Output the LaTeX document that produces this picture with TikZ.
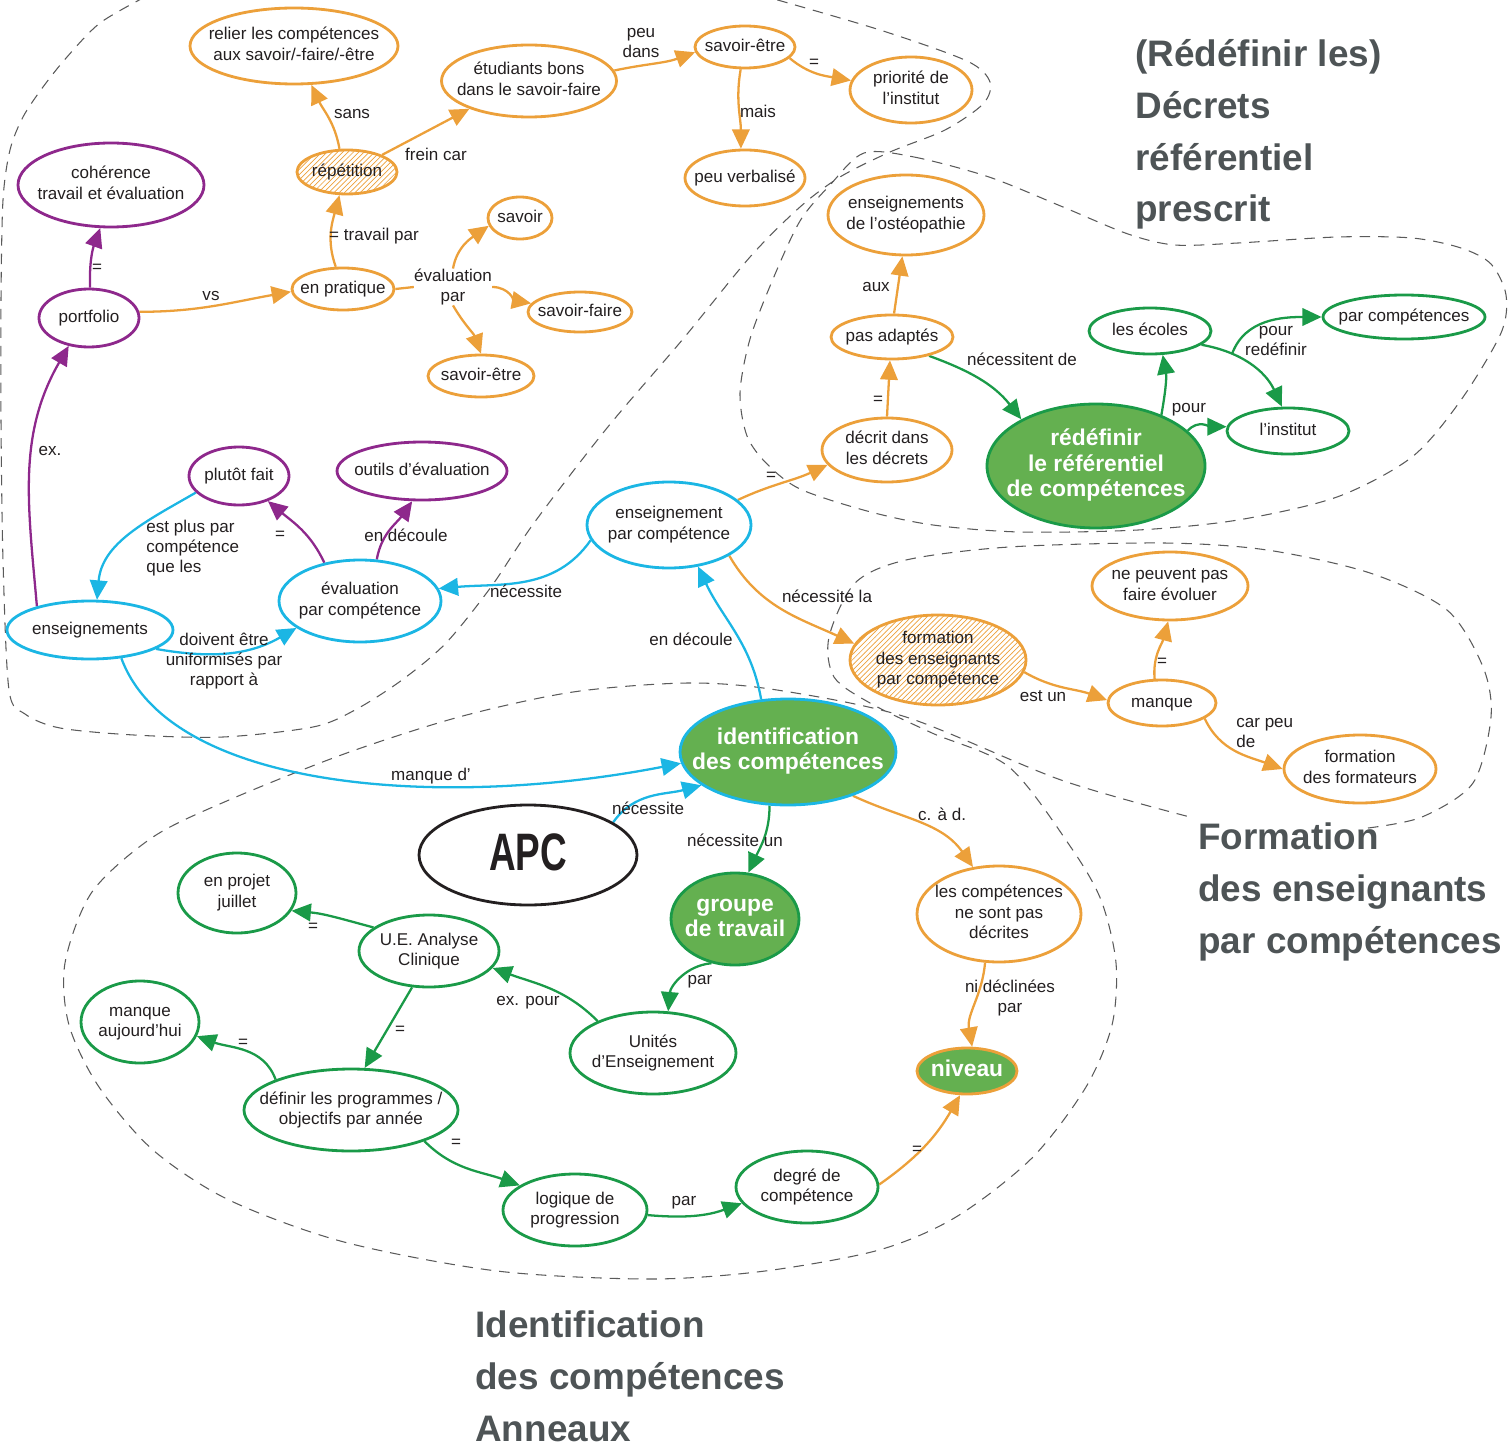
\documentclass[tikz,border=0pt]{standalone}
\usepackage{fontspec}
\setmainfont{Liberation Sans}
\usetikzlibrary{shapes.geometric, arrows.meta, patterns, backgrounds}

\definecolor{orng}{RGB}{236,160,58}
\definecolor{purp}{RGB}{142,40,140}
\definecolor{cyn}{RGB}{27,182,228}
\definecolor{grn}{RGB}{26,154,72}
\definecolor{grnfill}{RGB}{100,176,80}
\definecolor{ink}{RGB}{35,31,32}
\definecolor{titlegray}{RGB}{78,84,86}
\definecolor{blobgray}{RGB}{90,90,90}

\newcommand\nodefont{\fontsize{9.7}{11.4}\selectfont}
\newcommand\boldfont{\bfseries\fontsize{13}{14.5}\selectfont}
\newcommand\titlefont{\bfseries\fontsize{21}{29.5}\selectfont}
% centred lines in a box of zero width, so the ellipse keeps its given size
\newcommand\ctext[1]{\hbox to 0pt{\hss\begin{tabular}{@{}c@{}}#1\end{tabular}\hss}}

\tikzset{
  concept/.style ={ellipse, line width=1.6pt, fill=white, inner sep=0pt, text=ink, font=\nodefont},
  wh/.style 2 args={minimum width=#1*0.02cm, minimum height=#2*0.02cm},
  onode/.style   ={concept, draw=orng},
  pnode/.style   ={concept, draw=purp},
  cnode/.style   ={concept, draw=cyn},
  gnode/.style   ={concept, draw=grn},
  bignode/.style ={concept, fill=grnfill, text=white, font=\boldfont},
  hatched/.style ={pattern=north east lines, pattern color=orng},
  lbl/.style     ={inner sep=0pt, align=center, text=ink, font=\nodefont},
  link/.style    ={line width=1.3pt, -{Triangle[length=11pt,width=10pt]}},
  oarr/.style    ={link, draw=orng},
  parr/.style    ={link, draw=purp},
  carr/.style    ={link, draw=cyn},
  garr/.style    ={link, draw=grn},
  oline/.style   ={line width=1.3pt, draw=orng},
  blob/.style    ={draw=blobgray, line width=0.6pt, dash pattern=on 6pt off 4.5pt},
  region/.style  ={anchor=base west, align=left, inner sep=0pt, text=titlegray, font=\titlefont},
}

\begin{document}
\begin{tikzpicture}[x=0.02cm, y=-0.02cm]
  \useasboundingbox (0,0) rectangle (1510,1449);

  % ── top left: practice ─────────────────────────────────────────────
  \node[onode, wh={208}{76}]  (relier) at (294,46)  {\ctext{relier les compétences\\aux savoir/-faire/-être}};
  \node[onode, wh={175}{72}]  (etud)   at (529,81)  {\ctext{étudiants bons\\dans le savoir-faire}};
  \node[onode, wh={100}{42}]  (setre)  at (745,47)  {\ctext{savoir-être}};
  \node[onode, wh={122}{66}]  (prio)   at (911,90)  {\ctext{priorité de\\l’institut}};
  \node[onode, wh={120}{56}]  (verb)   at (745,178) {\ctext{peu verbalisé}};
  \node[onode, hatched, wh={100}{44}] (rep) at (347,172) {\ctext{répétition}};
  \node[pnode, wh={186}{84}]  (coher)  at (111,185) {\ctext{cohérence\\travail et évaluation}};
  \node[pnode, wh={100}{58}]  (portf)  at (89,318)  {\ctext{portfolio}};
  \node[onode, wh={102}{42}]  (prat)   at (343,289) {\ctext{en pratique}};
  \node[onode, wh={64}{42}]   (savoir) at (520,218) {\ctext{savoir}};
  \node[onode, wh={104}{40}]  (sfaire) at (580,312) {\ctext{savoir-faire}};
  \node[onode, wh={106}{42}]  (setre2) at (481,376) {\ctext{savoir-être}};

  % ── evaluation ─────────────────────────────────────────────────────
  \node[pnode, wh={100}{58}]  (plutot) at (239,476) {\ctext{plutôt fait}};
  \node[pnode, wh={170}{58}]  (outils) at (422,471) {\ctext{outils d’évaluation}};
  \node[cnode, wh={166}{58}]  (ens)    at (90,630)  {\ctext{enseignements}};
  \node[cnode, wh={162}{82}]  (evalc)  at (360,601) {\ctext{évaluation\\par compétence}};
  \node[cnode, wh={164}{86}]  (ensc)   at (669,525) {\ctext{enseignement\\par compétence}};

  % ── decrees ────────────────────────────────────────────────────────
  \node[onode, wh={156}{80}]  (osteo)  at (906,215) {\ctext{enseignements\\de l’ostéopathie}};
  \node[onode, wh={122}{44}]  (pasad)  at (892,337) {\ctext{pas adaptés}};
  \node[onode, wh={130}{64}]  (decrit) at (887,450) {\ctext{décrit dans\\les décrets}};
  \node[bignode, draw=grn, wh={218}{124}] (redef) at (1096,466) {\ctext{rédéfinir\\le référentiel\\de compétences}};
  \node[gnode, wh={122}{46}]  (ecoles) at (1150,331) {\ctext{les écoles}};
  \node[gnode, wh={162}{44}]  (parcomp) at (1404,317) {\ctext{par compétences}};
  \node[gnode, wh={122}{46}]  (instit) at (1288,431) {\ctext{l’institut}};

  % ── teacher training ───────────────────────────────────────────────
  \node[onode, hatched, wh={176}{90}] (formens) at (938,660) {\ctext{formation\\des enseignants\\par compétence}};
  \node[onode, wh={156}{68}]  (nepeuv) at (1170,586) {\ctext{ne peuvent pas\\faire évoluer}};
  \node[onode, wh={108}{46}]  (manque) at (1162,703) {\ctext{manque}};
  \node[onode, wh={152}{68}]  (formf)  at (1360,769) {\ctext{formation\\des formateurs}};

  % ── identification ─────────────────────────────────────────────────
  \node[bignode, draw=cyn, wh={216}{106}] (ident) at (788,752) {\ctext{identification\\des compétences}};
  \node[concept, draw=ink, wh={218}{100}] (apc) at (528,855)
        {\ctext{\bfseries\fontsize{30}{30}\selectfont\scalebox{0.7}[1]{APC}}};
  \node[bignode, draw=grn, wh={128}{92}] (groupe) at (735,919) {\ctext{groupe\\de travail}};
  \node[onode, wh={164}{96}]  (compnd) at (999,914) {\ctext{les compétences\\ne sont pas\\décrites}};
  \node[bignode, draw=orng, wh={100}{46}] (niveau) at (967,1071) {\ctext{niveau}};
  \node[gnode, wh={118}{80}]  (projet) at (237,893) {\ctext{en projet\\juillet}};
  \node[gnode, wh={140}{72}]  (ue)     at (429,951) {\ctext{U.E. Analyse\\Clinique}};
  \node[gnode, wh={118}{82}]  (mqaujd) at (140,1022) {\ctext{manque\\aujourd’hui}};
  \node[gnode, wh={166}{82}]  (unites) at (653,1053) {\ctext{Unités\\d’Enseignement}};
  \node[gnode, wh={214}{82}]  (definir) at (351,1110) {\ctext{définir les programmes /\\objectifs par année}};
  \node[gnode, wh={144}{72}]  (logique) at (575,1210) {\ctext{logique de\\progression}};
  \node[gnode, wh={142}{72}]  (degre)  at (807,1187) {\ctext{degré de\\compétence}};

  % ── link labels ────────────────────────────────────────────────────
  \node[lbl] (lsans)   at (352,114)  {sans};
  \node[lbl] (lfrein)  at (436,154)  {frein car};
  \node[lbl] (ltrav)   at (374,236)  {= travail par};
  \node[lbl] (lpeu)    at (641,43)   {peu\\dans};
  \node[lbl] (leqa)    at (814,63)   {=};
  \node[lbl] (lmais)   at (758,111)  {mais};
  \node[lbl] (evp)     at (453,287)  {évaluation\\par};
  \node[lbl] (leqb)    at (97,268)   {=};
  \node[lbl] (lvs)     at (211,296)  {vs};
  \node[lbl] (lex)     at (50,451)   {ex.};
  \node[lbl] (leqc)    at (280,535)  {=};
  \node[lbl] (ldeca)   at (406,535)  {en découle};
  \node[lbl, align=left, anchor=west] (lplus) at (146,548) {est plus par\\compétence\\que les};
  \node[lbl] (ldoiv)   at (224,661)  {doivent être\\uniformisés par\\rapport à};
  \node[lbl] (lneca)   at (526,591)  {nécessite};
  \node[lbl] (lmanq)   at (431,776)  {manque d’};
  \node[lbl] (ldecb)   at (691,639)  {en découle};
  \node[lbl] (lnecb)   at (648,808)  {nécessite};
  \node[lbl] (leqd)    at (771,476)  {=};
  \node[lbl] (leqe)    at (878,400)  {=};
  \node[lbl] (laux)    at (876,287)  {aux};
  \node[lbl] (lnecla)  at (827,596)  {nécessite la};
  \node[lbl] (lestun)  at (1043,696) {est un};
  \node[lbl] (leqf)    at (1162,662) {=};
  \node[lbl, align=left, anchor=west] (lcarpeu) at (1236,733) {car peu\\de};
  \node[lbl] (lcad)    at (942,814)  {c. à d.};
  \node[lbl] (lnidec)  at (1010,998) {ni déclinées\\par};
  \node[lbl] (leqg)    at (917,1150) {=};
  \node[lbl] (lnecde)  at (1022,359) {nécessitent de};
  \node[lbl] (lpour)   at (1189,410) {pour};
  \node[lbl] (lpourr)  at (1276,341) {pour\\redéfinir};
  \node[lbl] (lnecun)  at (735,840)  {nécessite un};
  \node[lbl] (lpara)   at (700,982)  {par};
  \node[lbl] (lexpour) at (528,1003) {ex. pour};
  \node[lbl] (leqh)    at (313,927)  {=};
  \node[lbl] (leqi)    at (400,1030) {=};
  \node[lbl] (leqj)    at (243,1043) {=};
  \node[lbl] (leqk)    at (456,1143) {=};
  \node[lbl] (lparb)   at (684,1203) {par};

  % ── region titles (placed at the baseline of their last line) ──────
  \node[region] (tdecrets)   at (1135,222)  {(Rédéfinir les)\\Décrets\\référentiel\\prescrit};
  \node[region] (tformation) at (1198,953)  {Formation\\des enseignants\\par compétences};
  \node[region] (tident)     at (475,1441)  {Identification\\des compétences\\Anneaux};

  \begin{scope}[on background layer]
    % dashed regions
    \draw[blob] plot[smooth] coordinates {(145,-3) (100,23) (67,57) (43,87) (23,117) (10,150)
      (3,200) (1,300) (1,420) (3,560) (9,690) (25,714) (60,728) (134,735) (223,737) (313,727)
      (355,710) (402,680) (446,643) (491,587) (534,523) (607,428) (683,339) (750,257) (800,207)
      (840,177) (890,152) (945,130) (983,104) (990,82) (967,61) (880,30) (767,-3)};
    \draw[blob] plot[smooth cycle] coordinates {(864,153) (914,157) (989,177) (1063,207)
      (1128,234) (1175,245) (1238,243) (1337,237) (1412,238) (1461,248) (1491,264) (1506,295)
      (1501,333) (1461,400) (1412,457) (1337,497) (1238,520) (1138,530) (1020,532) (933,525)
      (867,511) (800,489) (767,464) (747,436) (740,393) (750,339) (773,279) (800,221) (830,185)};
    \draw[blob] plot[smooth] coordinates {(1368,828) (1422,817) (1473,783) (1491,717)
      (1483,667) (1447,610) (1370,573) (1267,550) (1164,543) (1009,547) (906,560) (855,583)
      (829,637) (834,677) (870,703) (932,733) (1009,767) (1070,846) (1101,900) (1116,963)
      (1112,1025) (1086,1087) (1032,1158) (956,1217) (879,1250) (765,1271) (650,1279)
      (497,1271) (344,1242) (229,1200) (153,1150) (99,1087) (69,1025) (65,963) (92,892)
      (153,837) (229,800) (344,754) (459,717) (573,692) (688,683) (777,690) (906,717)
      (1061,780) (1190,817)};

    % orange links, top left
    \draw[oarr] (rep.108) to[out=100,in=-65] (relier.294);
    \draw[oarr] (rep.26) -- (etud.205);
    \draw[oarr] (prat.108) to[out=110,in=-105] (rep.252);
    \draw[oarr] (etud.7) to[out=12,in=200] (setre.186);
    \draw[oarr] (setre.346) to[out=-40,in=170] (prio.171);
    \draw[oarr] (setre.259) to[out=-100,in=90] (verb.98);
    \draw[oarr] (portf.7) to[out=0,in=190] (prat.183);
    \draw[oline] (prat.east) -- (evp.west);
    \draw[oarr] (evp.north) to[out=80,in=215] (savoir.194);
    \draw[oarr] (evp.east) to[out=0,in=170] (sfaire.170);
    \draw[oarr] (evp.south) to[out=-60,in=110] (setre2.90);

    % purple links
    \draw[parr] (portf.88) to[out=92,in=-110] (coher.256);
    \draw[parr] (ens.156) to[out=95,in=-120] (portf.234);
    \draw[parr] (evalc.133) to[out=115,in=-40] (plutot.319);
    \draw[parr] (evalc.68) to[out=80,in=-125] (outils.252);

    % cyan links
    \draw[carr] (plutot.201) to[out=210,in=85] (ens.77);
    \draw[carr] (ens.344) to[out=-10,in=210] (evalc.203);
    \draw[carr] (ensc.191) to[out=235,in=5] (evalc.9);
    \draw[carr] (ens.318) .. controls (170,790) and (440,810) .. (ident.186);
    \draw[carr] (ident.117) to[out=100,in=-65] (ensc.305);
    \draw[carr] (apc.21) to[out=55,in=195] (ident.201);

    % orange links, right
    \draw[oarr] (ensc.20) to[out=25,in=205] (decrit.194);
    \draw[oarr] (decrit.north) -- (pasad.265);
    \draw[oarr] (pasad.85) -- (osteo.265);
    \draw[oarr] (ensc.333) to[out=-60,in=155] (formens.169);
    \draw[oarr] (formens.-8) to[out=-30,in=160] (manque.177);
    \draw[oarr] (manque.107) to[out=95,in=-105] (nepeuv.267);
    \draw[oarr] (manque.340) to[out=-65,in=160] (formf.180);
    \draw[oarr] (ident.326) to[out=-25,in=125] (compnd.119);
    \draw[oarr] (compnd.254) to[out=-95,in=100] (niveau.78);
    \draw[oarr] (degre.2) to[out=35,in=-120] (niveau.254);

    % green links
    \draw[garr] (pasad.333) to[out=-20,in=128] (redef.148);
    \draw[garr] (redef.38) to[out=80,in=-80] (ecoles.298);
    \draw[garr] (redef.21) to[out=50,in=180] (instit.176);
    \draw[garr] (ecoles.-15) to[out=-10,in=115] (instit.104);
    \coordinate (pbr) at (1232,354);
    \draw[garr] (pbr) to[out=70,in=180] (parcomp.180);
    \draw[garr] (ident.251) to[out=-90,in=65] (groupe.74);
    \draw[garr] (groupe.242) to[out=185,in=85] (unites.70);
    \draw[garr] (unites.150) to[out=135,in=-20] (ue.345);
    \draw[garr] (ue.157) to[out=165,in=-5] (projet.342);
    \draw[garr] (ue.245) -- (definir.72);
    \draw[garr] (definir.158) to[out=110,in=-20] (mqaujd.346);
    \draw[garr] (definir.337) to[out=-45,in=160] (logique.156);
    \draw[garr] (logique.-4) to[out=-5,in=200] (degre.194);
  \end{scope}
\end{tikzpicture}
\end{document}
